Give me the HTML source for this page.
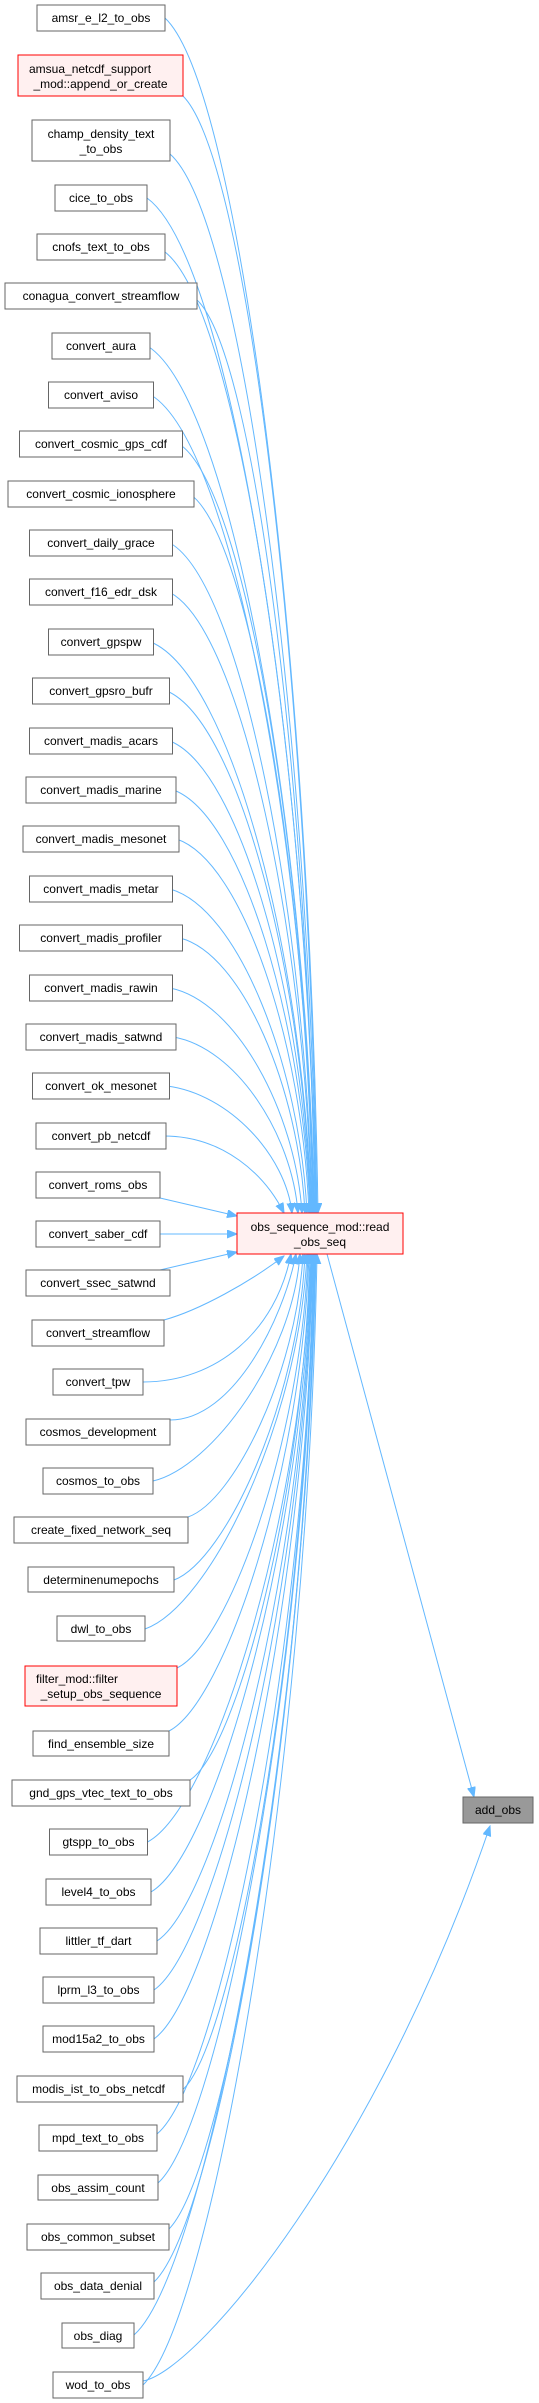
<!DOCTYPE html>
<html><head><meta charset="utf-8"><style>
html,body{margin:0;padding:0;background:#fff;}
svg{display:block;}
text{font-family:"Liberation Sans",Arial,sans-serif;font-size:12px;fill:#000;}
.n{fill:#fff;stroke:#666;stroke-width:1;}
.r{fill:#fff0f0;stroke:#ff0000;stroke-width:1;}
.e{fill:none;stroke:#63b8ff;stroke-width:1;}
</style></head><body>
<svg width="539" height="2403" viewBox="0 0 539 2403" xmlns="http://www.w3.org/2000/svg">
<defs><marker id="a" markerUnits="userSpaceOnUse" markerWidth="11" markerHeight="9" refX="10" refY="4" orient="auto"><path d="M0,0 L10,4 L0,8 z" fill="#63b8ff" stroke="#63b8ff"/></marker></defs>
<g>
<path class="e" marker-end="url(#a)" d="M165,18 C241.5,90 310,675 318,1213"/>
<path class="e" marker-end="url(#a)" d="M183,96 C250,163 310,710 317,1213"/>
<path class="e" marker-end="url(#a)" d="M170,154 C243,218 309,736 316.5,1213"/>
<path class="e" marker-end="url(#a)" d="M147,198 C231.5,259 307.5,756 316,1213"/>
<path class="e" marker-end="url(#a)" d="M165,252 C240,310 308,781 315.5,1213"/>
<path class="e" marker-end="url(#a)" d="M197,300 C256,355 309,802 315,1213"/>
<path class="e" marker-end="url(#a)" d="M147.5,346 C231,398 306,823 314.5,1213"/>
<path class="e" marker-end="url(#a)" d="M151,395 C232.5,444 306,845 314,1213"/>
<path class="e" marker-end="url(#a)" d="M180,444.5 C247,491 307,867 313.5,1213"/>
<path class="e" marker-end="url(#a)" d="M190,494 C251.5,537 307,890 313,1213"/>
<path class="e" marker-end="url(#a)" d="M170,543 C241,583 305,912 312.5,1213"/>
<path class="e" marker-end="url(#a)" d="M170,592.6 C241,630 305,934 312,1213"/>
<path class="e" marker-end="url(#a)" d="M151,642 C231,676 303.5,956 311.5,1213"/>
<path class="e" marker-end="url(#a)" d="M167,691 C239,722 304,978 311,1213"/>
<path class="e" marker-end="url(#a)" d="M170,741 C240,769 303.5,1000 310.5,1213"/>
<path class="e" marker-end="url(#a)" d="M173.5,790 C242,815 303,1023 310,1213"/>
<path class="e" marker-end="url(#a)" d="M176.5,839 C243,861 302.5,1045 309,1213"/>
<path class="e" marker-end="url(#a)" d="M170,889 C238.5,908 300,1067 307,1213"/>
<path class="e" marker-end="url(#a)" d="M180,938 C242.5,954 299,1089 305,1213"/>
<path class="e" marker-end="url(#a)" d="M170,988 C236,1001 295.5,1112 302,1213"/>
<path class="e" marker-end="url(#a)" d="M173.5,1037 C236,1048 292,1134 298,1213"/>
<path class="e" marker-end="url(#a)" d="M167,1086 C229.5,1094 286,1156 292,1213"/>
<path class="e" marker-end="url(#a)" d="M163.5,1136 C224,1136 265,1175 284,1213"/>
<path class="e" marker-end="url(#a)" d="M160,1198 L237,1216"/>
<path class="e" marker-end="url(#a)" d="M160,1234 L237,1234"/>
<path class="e" marker-end="url(#a)" d="M160,1270 L237,1252"/>
<path class="e" marker-end="url(#a)" d="M164,1320 C200,1310 250,1282 284,1256"/>
<path class="e" marker-end="url(#a)" d="M143,1382 C217,1382 276,1331 291,1254"/>
<path class="e" marker-end="url(#a)" d="M170,1420 C233,1420 283,1320 296,1254"/>
<path class="e" marker-end="url(#a)" d="M153,1481 C212,1467 293,1356 300,1254"/>
<path class="e" marker-end="url(#a)" d="M188,1517 C234,1501 297,1372 303,1254"/>
<path class="e" marker-end="url(#a)" d="M174,1580 C226,1560 298.5,1401 305,1254"/>
<path class="e" marker-end="url(#a)" d="M145,1629 C210,1606 299,1423 307,1254"/>
<path class="e" marker-end="url(#a)" d="M177,1668 C229,1643 301.5,1440 308,1254"/>
<path class="e" marker-end="url(#a)" d="M169,1731 C225,1702 302,1469 309,1254"/>
<path class="e" marker-end="url(#a)" d="M190,1780 C238,1748 304,1491 310,1254"/>
<path class="e" marker-end="url(#a)" d="M147.5,1842 C213,1807 303,1519 311,1254"/>
<path class="e" marker-end="url(#a)" d="M151,1892 C215,1854 303.5,1541 311.5,1254"/>
<path class="e" marker-end="url(#a)" d="M157,1941 C219,1900 304,1563 312,1254"/>
<path class="e" marker-end="url(#a)" d="M154,1990 C217,1946 304.5,1585 312.5,1254"/>
<path class="e" marker-end="url(#a)" d="M154,2039 C217.5,1992 305,1607 313,1254"/>
<path class="e" marker-end="url(#a)" d="M183.5,2089 C235.5,2039 307,1630 313.5,1254"/>
<path class="e" marker-end="url(#a)" d="M157,2134 C220,2081 306,1650 314,1254"/>
<path class="e" marker-end="url(#a)" d="M158,2183 C220,2127 306.5,1672 314.5,1254"/>
<path class="e" marker-end="url(#a)" d="M169,2229 C227,2170 307.7,1693 315,1254"/>
<path class="e" marker-end="url(#a)" d="M154,2282 C218.5,2220 307.4,1717 315.5,1254"/>
<path class="e" marker-end="url(#a)" d="M134,2335 C207,2270 307,1740 316,1254"/>
<path class="e" marker-end="url(#a)" d="M143,2385 C213,2317 308,1763 317,1254"/>
<path class="e" marker-end="url(#a)" d="M143,2381 C200,2370 380,2150 490,1826"/>
<path class="e" marker-end="url(#a)" d="M327,1254 L474,1797"/>
</g>
<g>
<rect class="n" x="37" y="5" width="128" height="26"/><text x="101" y="22" text-anchor="middle">amsr_e_l2_to_obs</text>
<rect class="r" x="18" y="55" width="165" height="41"/><text x="29" y="73">amsua_netcdf_support</text><text x="100.5" y="88" text-anchor="middle">_mod::append_or_create</text>
<rect class="n" x="32" y="120" width="138" height="41"/><text x="101" y="138" text-anchor="middle">champ_density_text</text><text x="101" y="153" text-anchor="middle">_to_obs</text>
<rect class="n" x="55" y="185" width="92" height="26"/><text x="101" y="202" text-anchor="middle">cice_to_obs</text>
<rect class="n" x="37" y="234" width="128" height="26"/><text x="101" y="251" text-anchor="middle">cnofs_text_to_obs</text>
<rect class="n" x="5" y="283" width="192" height="26"/><text x="101" y="300" text-anchor="middle">conagua_convert_streamflow</text>
<rect class="n" x="52" y="333" width="98" height="26"/><text x="101" y="350" text-anchor="middle">convert_aura</text>
<rect class="n" x="48.5" y="382" width="105" height="26"/><text x="101" y="399" text-anchor="middle">convert_aviso</text>
<rect class="n" x="19.5" y="431" width="163" height="26"/><text x="101" y="448" text-anchor="middle">convert_cosmic_gps_cdf</text>
<rect class="n" x="8" y="481" width="186" height="26"/><text x="101" y="498" text-anchor="middle">convert_cosmic_ionosphere</text>
<rect class="n" x="29.5" y="530" width="143" height="26"/><text x="101" y="547" text-anchor="middle">convert_daily_grace</text>
<rect class="n" x="29.5" y="579" width="143" height="26"/><text x="101" y="596" text-anchor="middle">convert_f16_edr_dsk</text>
<rect class="n" x="48.5" y="629" width="105" height="26"/><text x="101" y="646" text-anchor="middle">convert_gpspw</text>
<rect class="n" x="32.5" y="678" width="137" height="26"/><text x="101" y="695" text-anchor="middle">convert_gpsro_bufr</text>
<rect class="n" x="29.5" y="728" width="143" height="26"/><text x="101" y="745" text-anchor="middle">convert_madis_acars</text>
<rect class="n" x="26" y="777" width="150" height="26"/><text x="101" y="794" text-anchor="middle">convert_madis_marine</text>
<rect class="n" x="23" y="826" width="156" height="26"/><text x="101" y="843" text-anchor="middle">convert_madis_mesonet</text>
<rect class="n" x="29.5" y="876" width="143" height="26"/><text x="101" y="893" text-anchor="middle">convert_madis_metar</text>
<rect class="n" x="19.5" y="925" width="163" height="26"/><text x="101" y="942" text-anchor="middle">convert_madis_profiler</text>
<rect class="n" x="29.5" y="975" width="143" height="26"/><text x="101" y="992" text-anchor="middle">convert_madis_rawin</text>
<rect class="n" x="26" y="1024" width="150" height="26"/><text x="101" y="1041" text-anchor="middle">convert_madis_satwnd</text>
<rect class="n" x="32.5" y="1073" width="137" height="26"/><text x="101" y="1090" text-anchor="middle">convert_ok_mesonet</text>
<rect class="n" x="36" y="1123" width="130" height="26"/><text x="101" y="1140" text-anchor="middle">convert_pb_netcdf</text>
<rect class="n" x="36" y="1172" width="124" height="26"/><text x="98" y="1189" text-anchor="middle">convert_roms_obs</text>
<rect class="n" x="36" y="1221" width="124" height="26"/><text x="98" y="1238" text-anchor="middle">convert_saber_cdf</text>
<rect class="n" x="26" y="1270" width="144" height="26"/><text x="98" y="1287" text-anchor="middle">convert_ssec_satwnd</text>
<rect class="n" x="32" y="1320" width="132" height="26"/><text x="98" y="1337" text-anchor="middle">convert_streamflow</text>
<rect class="n" x="53" y="1369" width="90" height="26"/><text x="98" y="1386" text-anchor="middle">convert_tpw</text>
<rect class="n" x="26" y="1419" width="144" height="26"/><text x="98" y="1436" text-anchor="middle">cosmos_development</text>
<rect class="n" x="43" y="1468" width="110" height="26"/><text x="98" y="1485" text-anchor="middle">cosmos_to_obs</text>
<rect class="n" x="14" y="1517" width="174" height="26"/><text x="101" y="1534" text-anchor="middle">create_fixed_network_seq</text>
<rect class="n" x="28" y="1567" width="146" height="25"/><text x="101" y="1584" text-anchor="middle">determinenumepochs</text>
<rect class="n" x="57" y="1616" width="88" height="25"/><text x="101" y="1633" text-anchor="middle">dwl_to_obs</text>
<rect class="r" x="25" y="1666" width="152" height="40"/><text x="36" y="1683">filter_mod::filter</text><text x="101" y="1698" text-anchor="middle">_setup_obs_sequence</text>
<rect class="n" x="33" y="1731" width="136" height="25"/><text x="101" y="1748" text-anchor="middle">find_ensemble_size</text>
<rect class="n" x="12" y="1780" width="178" height="26"/><text x="101" y="1797" text-anchor="middle">gnd_gps_vtec_text_to_obs</text>
<rect class="n" x="49.5" y="1829" width="98" height="26"/><text x="98.5" y="1846" text-anchor="middle">gtspp_to_obs</text>
<rect class="n" x="46" y="1879" width="105" height="26"/><text x="98.5" y="1896" text-anchor="middle">level4_to_obs</text>
<rect class="n" x="40" y="1928" width="117" height="26"/><text x="98.5" y="1945" text-anchor="middle">littler_tf_dart</text>
<rect class="n" x="43" y="1977" width="111" height="26"/><text x="98.5" y="1994" text-anchor="middle">lprm_l3_to_obs</text>
<rect class="n" x="43" y="2026" width="111" height="26"/><text x="98.5" y="2043" text-anchor="middle">mod15a2_to_obs</text>
<rect class="n" x="17" y="2076" width="166" height="26"/><text x="98.5" y="2093" text-anchor="middle">modis_ist_to_obs_netcdf</text>
<rect class="n" x="39" y="2125" width="118" height="26"/><text x="98" y="2142" text-anchor="middle">mpd_text_to_obs</text>
<rect class="n" x="38" y="2175" width="120" height="25"/><text x="98" y="2192" text-anchor="middle">obs_assim_count</text>
<rect class="n" x="27" y="2224" width="142" height="26"/><text x="98" y="2241" text-anchor="middle">obs_common_subset</text>
<rect class="n" x="41" y="2273" width="113" height="26"/><text x="98" y="2290" text-anchor="middle">obs_data_denial</text>
<rect class="n" x="62" y="2323" width="72" height="25"/><text x="98" y="2340" text-anchor="middle">obs_diag</text>
<rect class="n" x="53" y="2372" width="90" height="26"/><text x="98" y="2389" text-anchor="middle">wod_to_obs</text>
<rect class="r" x="237" y="1213" width="166" height="41"/><text x="320" y="1231" text-anchor="middle">obs_sequence_mod::read</text><text x="320" y="1246" text-anchor="middle">_obs_seq</text>
<rect x="463" y="1797" width="70" height="26" fill="#999" stroke="#666"/><text x="498" y="1814" text-anchor="middle">add_obs</text>
</g>
</svg>
</body></html>
